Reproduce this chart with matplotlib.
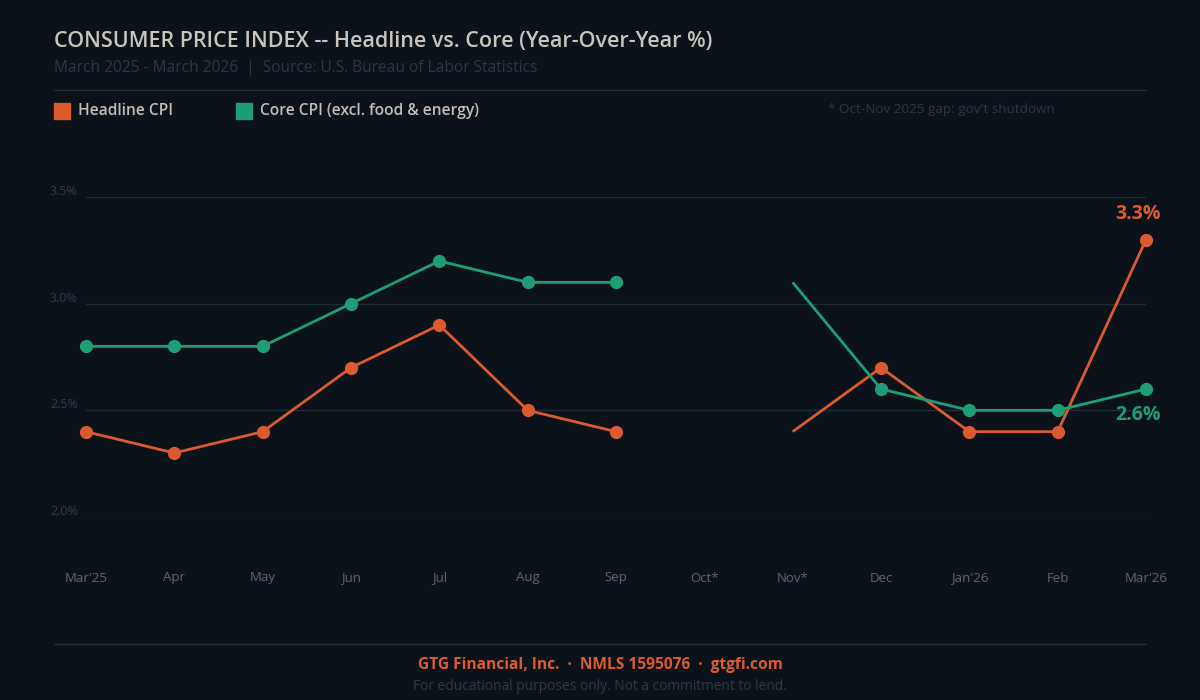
import numpy as np
import matplotlib.pyplot as plt
from matplotlib.lines import Line2D
from matplotlib.patches import Rectangle

# --- data ---
months = ["Mar'25", "Apr", "May", "Jun", "Jul", "Aug", "Sep",
          "Oct*", "Nov*", "Dec", "Jan'26", "Feb", "Mar'26"]
headline = [2.4, 2.3, 2.4, 2.7, 2.9, 2.5, 2.4, None, 2.4, 2.7, 2.4, 2.4, 3.3]
core = [2.8, 2.8, 2.8, 3.0, 3.2, 3.1, 3.1, None, 3.1, 2.6, 2.5, 2.5, 2.6]
no_marker = ["Nov*"]          # shutdown month: line resumes, no dot
y_ticks = [2.0, 2.5, 3.0, 3.5]

BG = "#0b121a"
ORANGE = "#dc5a30"
GREEN = "#1f9e76"
GRID = "#1d2c35"
FONT = ["Open Sans", "DejaVu Sans"]

plt.rcParams["font.family"] = FONT

W, H = 1200, 700
fig = plt.figure(figsize=(12, 7), dpi=100, facecolor=BG)


def fx(px):
    return px / W


def fy(py):
    return 1 - py / H


# plot area: Mar'25 at x=86, Mar'26 at x=1146; 3.5% at y=197, 2.0% at y=517
ax = fig.add_axes([fx(86), fy(517), fx(1146) - fx(86), fy(197) - fy(517)])
ax.set_facecolor(BG)
ax.set_xlim(0, len(months) - 1)
ax.set_ylim(2.0, 3.5)
for s in ax.spines.values():
    s.set_visible(False)
ax.set_xticks([])
ax.set_yticks([])

for v in y_ticks:
    ax.axhline(v, color=GRID, lw=1, zorder=0)
    fig.text(fx(50), fy(197 + (3.5 - v) / 0.5 * 106.7) + 0.008, f"{v:.1f}%",
             color="#303c46", fontsize=9, ha="left", va="center")


def draw_series(vals, color):
    xs = np.array([i for i, v in enumerate(vals) if v is not None])
    ys = np.array([v for v in vals if v is not None])
    # break line across the missing month
    gap = months.index("Oct*")
    for seg in (xs < gap, xs > gap):
        ax.plot(xs[seg], ys[seg], color=color, lw=2, zorder=3,
                clip_on=False, solid_capstyle="butt")
    mk = [i for i, v in enumerate(vals) if v is not None and months[i] not in no_marker]
    ax.plot(mk, [vals[i] for i in mk], ls="none", marker="o", ms=8.5,
            color=color, zorder=4, clip_on=False)


draw_series(headline, ORANGE)
draw_series(core, GREEN)

for i, m in enumerate(months):
    fig.text(fx(86 + i * (1060 / 12)), fy(578), m, color="#5a6670",
             fontsize=9.5, ha="center", va="center")

# end labels
fig.text(fx(1138), fy(214), f"{headline[-1]:.1f}%", color=ORANGE,
         fontsize=14, fontweight="bold", ha="center", va="center")
fig.text(fx(1138), fy(415), f"{core[-1]:.1f}%", color=GREEN,
         fontsize=14, fontweight="bold", ha="center", va="center")

# header
fig.text(fx(54), fy(42), "CONSUMER PRICE INDEX -- Headline vs. Core (Year-Over-Year %)",
         color="#c9c5bd", fontsize=15.5, fontweight="semibold", ha="left", va="center")
fig.text(fx(54), fy(68), "March 2025 - March 2026  |  Source: U.S. Bureau of Labor Statistics",
         color="#2b3842", fontsize=11.2, ha="left", va="center")
fig.add_artist(Line2D([fx(54), fx(1146)], [fy(90), fy(90)], color="#22303a", lw=1))

# legend
for px, label, c in [(54, "Headline CPI", ORANGE),
                     (236, "Core CPI (excl. food & energy)", GREEN)]:
    fig.add_artist(Rectangle((fx(px), fy(119)), fx(16), 16 / H,
                             color=c, transform=fig.transFigure))
    fig.text(fx(px + 24), fy(111), label, color="#c2beb6", fontsize=11.2,
             fontweight="semibold", ha="left", va="center")
fig.text(fx(828), fy(109), "* Oct-Nov 2025 gap: gov't shutdown",
         color="#2b3842", fontsize=9.7, ha="left", va="center")

# footer
fig.add_artist(Line2D([fx(54), fx(1146)], [fy(644), fy(644)], color="#22303a", lw=1))
fig.text(0.5, fy(665), "GTG Financial, Inc.  \u00b7  NMLS 1595076  \u00b7  gtgfi.com",
         color=ORANGE, fontsize=11.2, fontweight="bold", ha="center", va="center")
fig.text(0.5, fy(686), "For educational purposes only. Not a commitment to lend.",
         color="#2e3a44", fontsize=9.9, ha="center", va="center")

fig.savefig("out.png", dpi=100, facecolor=BG)
